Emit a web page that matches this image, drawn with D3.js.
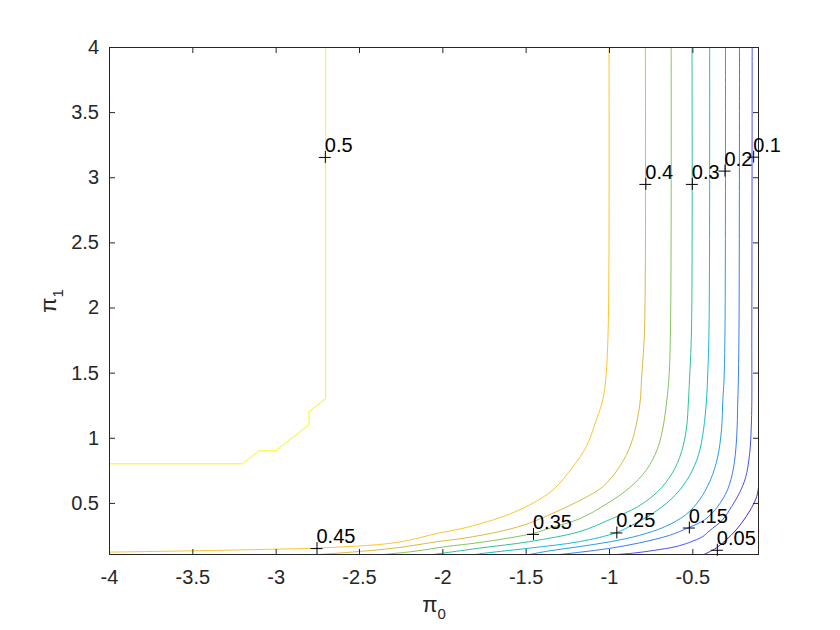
<!DOCTYPE html>
<html>
<head>
<meta charset="utf-8">
<script src="https://cdn.jsdelivr.net/npm/d3@7"></script>
<style>
  body { margin: 0; background: #fff; }
  text { font-family: "Liberation Sans", Arial, sans-serif; }
</style>
</head>
<body>
<div id="chart"></div>
<script>
// contour levels and the traced contour paths [pi0, pi1]
const levels = [0.05, 0.1, 0.15, 0.2, 0.25, 0.3, 0.35, 0.4, 0.45, 0.5];

const line005 = [[-0.1,0.646],[-0.117,0.536],[-0.177,0.395],[-0.237,0.293],[-0.297,0.216],[-0.357,0.153],[-0.437,0.1]];
const line010 = [[-0.141,4],[-0.143,1.828],[-0.145,1.137],[-0.157,0.869],[-0.181,0.692],[-0.217,0.577],[-0.265,0.470],[-0.319,0.370],[-0.397,0.286],[-0.437,0.242],[-0.517,0.197],[-0.597,0.165],[-0.727,0.136],[-0.857,0.114],[-0.996,0.1]];
const line015 = [[-0.217,4],[-0.220,1.828],[-0.224,1.444],[-0.227,1.291],[-0.235,0.984],[-0.253,0.769],[-0.289,0.600],[-0.349,0.470],[-0.427,0.370],[-0.521,0.311],[-0.637,0.251],[-0.817,0.193],[-0.996,0.151],[-1.176,0.121],[-1.326,0.1]];
const line020 = [[-0.301,4],[-0.304,1.828],[-0.310,1.444],[-0.317,1.291],[-0.325,1.061],[-0.349,0.846],[-0.391,0.677],[-0.457,0.523],[-0.541,0.408],[-0.667,0.316],[-0.817,0.251],[-0.996,0.201],[-1.176,0.165],[-1.356,0.132],[-1.494,0.1]];
const line025 = [[-0.396,4],[-0.400,1.828],[-0.409,1.444],[-0.415,1.291],[-0.433,1.061],[-0.463,0.869],[-0.517,0.708],[-0.601,0.562],[-0.715,0.439],[-0.847,0.339],[-0.956,0.272],[-1.176,0.203],[-1.476,0.153],[-1.776,0.109],[-1.816,0.1]];
const line030 = [[-0.502,4],[-0.505,1.828],[-0.517,1.444],[-0.523,1.291],[-0.535,1.076],[-0.565,0.892],[-0.619,0.731],[-0.709,0.585],[-0.829,0.470],[-0.984,0.378],[-1.176,0.280],[-1.476,0.203],[-1.776,0.153],[-2.076,0.1]];
const line035 = [[-0.627,4],[-0.631,1.828],[-0.641,1.444],[-0.653,1.291],[-0.673,1.099],[-0.709,0.915],[-0.775,0.754],[-0.877,0.616],[-1.014,0.493],[-1.176,0.378],[-1.336,0.314],[-1.456,0.266],[-1.776,0.196],[-1.975,0.165],[-2.176,0.127],[-2.387,0.1]];
const line040 = [[-0.782,4],[-0.787,1.828],[-0.805,1.444],[-0.812,1.291],[-0.827,1.163],[-0.866,0.959],[-0.936,0.779],[-1.037,0.625],[-1.156,0.531],[-1.336,0.421],[-1.476,0.345],[-1.636,0.286],[-1.876,0.228],[-2.016,0.205],[-2.275,0.155],[-2.555,0.121],[-2.795,0.1]];
const line045 = [[-1.000,4],[-1.005,1.828],[-1.020,1.444],[-1.037,1.291],[-1.076,1.137],[-1.136,0.932],[-1.216,0.779],[-1.336,0.600],[-1.476,0.485],[-1.636,0.395],[-1.876,0.305],[-2.016,0.270],[-2.275,0.196],[-2.753,0.153],[-3.005,0.145],[-3.504,0.132],[-4.0,0.122]];
const line050 = [[-4,0.8],[-3.2,0.8],[-3.1,0.9],[-3.0,0.9],[-2.8,1.1],[-2.8,1.2],[-2.7,1.3],[-2.7,4]];

const contourLines = [line005, line010, line015, line020, line025, line030, line035, line040, line045, line050];

// clabel positions
const labelX = [-0.353, -0.135, -0.521, -0.307, -0.956, -0.503, -1.456, -0.782, -2.755, -2.705];
const labelY = [0.140, 3.158, 0.311, 3.051, 0.273, 2.949, 0.262, 2.949, 0.153, 3.156];

const xTicks = [-4, -3.5, -3, -2.5, -2, -1.5, -1, -0.5];
const yTicks = [0.5, 1, 1.5, 2, 2.5, 3, 3.5, 4];

const lineColors = ["#4433c8", "#4a52ee", "#3a7cf4", "#2a9de6", "#18bcd2", "#2fc29a", "#86c45e", "#dcb944", "#fbc62e", "#f5f51a"];

const W = 840, H = 630;
const L = 109, R = 759, T = 47, B = 555;
const axisCol = "#262626";

const svg = d3.select("#chart").append("svg").attr("width", W).attr("height", H);

const x = d3.scaleLinear().domain([-4, -0.1]).range([L, R]);
const y = d3.scaleLinear().domain([0.1, 4]).range([B, T]);
const color = d3.scaleOrdinal().domain(levels).range(lineColors);

svg.append("clipPath").attr("id", "clip")
  .append("rect").attr("x", L).attr("y", T).attr("width", R - L).attr("height", B - T);

const smooth = d3.line().x(d => x(d[0])).y(d => y(d[1])).curve(d3.curveCatmullRom.alpha(0.5));
const straight = d3.line().x(d => x(d[0])).y(d => y(d[1]));

svg.append("g").attr("clip-path", "url(#clip)")
  .selectAll("path")
  .data(levels)
  .enter().append("path")
    .attr("d", (d, i) => (d === 0.5 ? straight : smooth)(contourLines[i]))
    .attr("fill", "none")
    .attr("stroke", d => color(d))
    .attr("stroke-width", 1);

// axes, box with inward ticks on every side
const fmt = d => String(d);
function styleAxis(g) {
  g.select(".domain").remove();
  g.selectAll(".tick line").attr("stroke", axisCol);
  g.selectAll(".tick text").attr("fill", axisCol).style("font-size", "20px")
    .style("font-family", '"Liberation Sans", Arial, sans-serif');
}
svg.append("g").attr("transform", `translate(0,${B})`)
  .call(d3.axisBottom(x).tickValues(xTicks).tickSize(-6).tickPadding(15).tickFormat(fmt)).call(styleAxis);
svg.append("g").attr("transform", `translate(0,${T})`)
  .call(d3.axisTop(x).tickValues(xTicks).tickSize(-6).tickFormat("")).call(styleAxis);
svg.append("g").attr("transform", `translate(${L},0)`)
  .call(d3.axisLeft(y).tickValues(yTicks).tickSize(-6).tickPadding(10).tickFormat(fmt)).call(styleAxis);
svg.append("g").attr("transform", `translate(${R},0)`)
  .call(d3.axisRight(y).tickValues(yTicks).tickSize(-6).tickFormat("")).call(styleAxis);

svg.append("rect").attr("x", L + 0.5).attr("y", T + 0.5)
  .attr("width", R - L - 1).attr("height", B - T - 1)
  .attr("fill", "none").attr("stroke", axisCol).attr("stroke-width", 1);

// contour labels
const lab = svg.append("g").selectAll("g")
  .data(levels)
  .enter().append("g")
    .attr("transform", (d, i) => `translate(${x(labelX[i])},${y(labelY[i])})`);
lab.append("path").attr("d", "M-6,0.5H6M0.5,-6V6").attr("stroke", "#000").attr("stroke-width", 1);
lab.append("text").attr("x", 0).attr("y", -5)
  .style("font-size", "20px").attr("fill", "#000")
  .text(d => String(d));

// axis labels
const xl = svg.append("text").attr("x", (L + R) / 2).attr("y", 612)
  .attr("text-anchor", "middle").attr("fill", axisCol).style("font-size", "22px");
xl.append("tspan").text("π");
xl.append("tspan").attr("dy", 7).style("font-size", "15px").text("0");

const yl = svg.append("text").attr("transform", `translate(56,${(T + B) / 2}) rotate(-90)`)
  .attr("text-anchor", "middle").attr("fill", axisCol).style("font-size", "22px");
yl.append("tspan").text("π");
yl.append("tspan").attr("dy", 7).style("font-size", "15px").text("1");
</script>
</body>
</html>
